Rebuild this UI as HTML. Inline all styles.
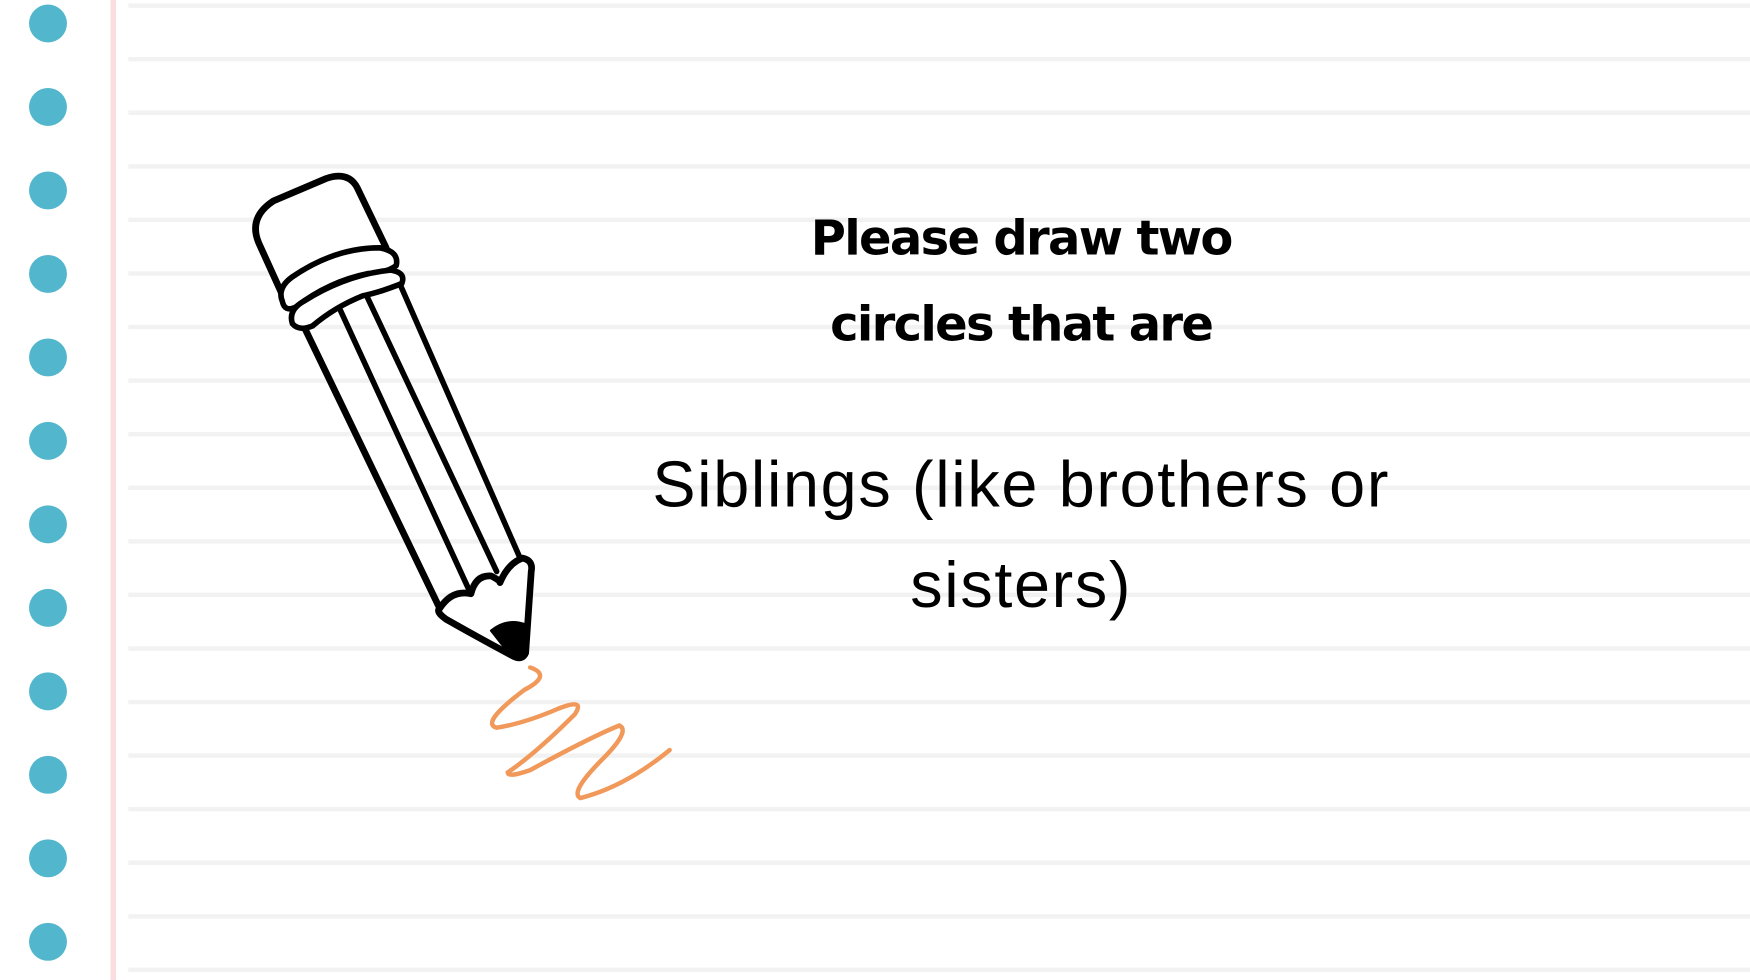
<!DOCTYPE html>
<html><head><meta charset="utf-8"><style>
html,body{margin:0;padding:0;background:#fff;}
svg{display:block;}
</style></head><body>
<svg width="1750" height="980" viewBox="0 0 1568 878" xmlns="http://www.w3.org/2000/svg">
<rect width="1568" height="878" fill="#ffffff"/>
<g id="lines"></g>
<rect x="99" y="0" width="5" height="878" fill="#fbdde0"/>
<g id="dots"></g>
<g fill="none" stroke="#000" stroke-linecap="round" stroke-linejoin="round">
  <path d="M252,262 L232,218 Q222,195 245,180 L292,160 Q312,153 320,168 L346,222" stroke-width="6" fill="#fff"/>
  <path d="M253,270 Q248,258 262,248 Q300,222 340,222 Q358,225 355,238 Q345,245 330,245 Q295,252 265,275 Q255,280 253,270Z" stroke-width="5" fill="#fff"/>
  <path d="M262,290 Q258,278 272,270 Q310,246 350,242 Q364,244 360,254 Q340,262 325,265 Q300,275 280,292 Q268,297 262,290Z" stroke-width="5" fill="#fff"/>
  <path d="M274,296 L393,543" stroke-width="6"/>
  <path d="M359,256 L466,500" stroke-width="5"/>
  <path d="M305,278 L420,528" stroke-width="5"/>
  <path d="M329,266 L445,512" stroke-width="5"/>
  <path d="M394,545 Q405,528 422,532 Q426,515 440,516 Q448,520 448,522 Q455,505 468,500 Q478,502 476,512 L471,585 Q468,592 460,588 Q430,572 400,555 Q390,548 394,545Z" stroke-width="6" fill="#fff"/>
  <path d="M440,565 Q455,553 472,560 L469,588 Q466,592 458,588 Z" fill="#000" stroke="#000" stroke-width="2"/>
</g>
<path d="M475,598 Q495,605 470,618 Q430,648 445,652 Q470,648 500,635 Q525,625 515,640 Q480,675 455,692 Q455,697 475,690 Q530,660 555,650 Q565,655 540,680 Q510,710 520,715 Q560,705 600,672" fill="none" stroke="#f0995a" stroke-width="4" stroke-linecap="round"/>
<g font-family="'DejaVu Sans','Liberation Sans',sans-serif" font-weight="bold" font-size="43" text-anchor="middle" fill="#000">
  <text x="915" y="228" letter-spacing="-1.5">Please draw two</text>
  <text x="915" y="305" letter-spacing="-1.5">circles that are</text>
</g>
<g font-family="'Liberation Sans',sans-serif" font-size="58" text-anchor="middle" fill="#000">
  <text x="915" y="454" letter-spacing="1.5">Siblings (like brothers or</text>
  <text x="915" y="544" letter-spacing="1.5">sisters)</text>
</g>
</svg>
<script>
const lineYs=[];for(let y=5;y<878;y+=48)lineYs.push(y);
const lg=document.getElementById('lines');
lineYs.forEach(y=>{const l=document.createElementNS('http://www.w3.org/2000/svg','line');
l.setAttribute('x1',115);l.setAttribute('x2',1568);l.setAttribute('y1',y);l.setAttribute('y2',y);
l.setAttribute('stroke','#f2f2f2');l.setAttribute('stroke-width',4);


lg.appendChild(l);});
const dg=document.getElementById('dots');
for(let i=0;i<12;i++){const c=document.createElementNS('http://www.w3.org/2000/svg','circle');
c.setAttribute('cx',43);c.setAttribute('cy',21+i*74.8);c.setAttribute('r',17);c.setAttribute('fill','#52b7cc');


dg.appendChild(c);}
</script>
</body></html>
